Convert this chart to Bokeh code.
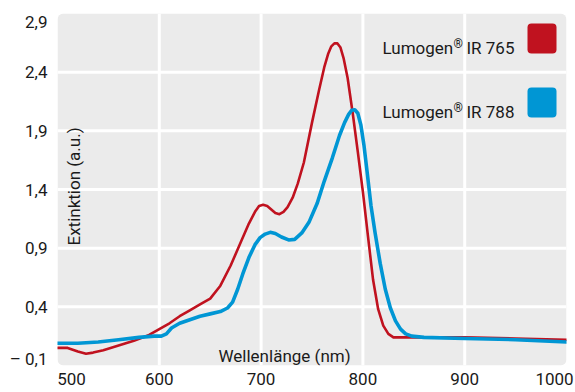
import math
from bokeh.plotting import figure
from bokeh.models import Label, BoxAnnotation, Span, FixedTicker
from bokeh.embed import file_html
from bokeh.resources import INLINE

# ---- data ----
wl_765 = [500, 510, 520, 528, 535, 545, 560, 575, 590, 600, 610, 620, 630, 640, 650,
          660, 670, 680, 688, 694, 698, 702, 706, 710, 714, 718, 722, 726, 731, 736,
          742, 750, 757, 762, 766, 769, 772, 775, 778, 781, 785, 790, 795, 800, 805,
          810, 815, 820, 825, 830, 840, 860, 900, 950, 1000]
ext_765 = [0.05, 0.05, 0.02, 0.00, 0.01, 0.03, 0.07, 0.11, 0.16, 0.21, 0.26, 0.32, 0.37, 0.42, 0.47,
           0.58, 0.75, 0.95, 1.11, 1.21, 1.26, 1.27, 1.26, 1.23, 1.20, 1.19, 1.21, 1.25, 1.33, 1.45,
           1.63, 1.97, 2.25, 2.44, 2.56, 2.62, 2.645, 2.645, 2.61, 2.52, 2.35, 2.05, 1.72, 1.38, 1.00,
           0.63, 0.38, 0.24, 0.17, 0.14, 0.14, 0.14, 0.14, 0.13, 0.12]

wl_788 = [500, 520, 540, 560, 580, 595, 602, 607, 612, 620, 630, 640, 650, 660, 667,
          672, 677, 682, 688, 694, 699, 704, 709, 714, 720, 727, 733, 740, 747, 755,
          762, 770, 777, 782, 786, 789, 792, 795, 798, 801, 804, 808, 812, 817, 822,
          827, 832, 837, 842, 848, 860, 900, 950, 1000]
ext_788 = [0.09, 0.09, 0.10, 0.12, 0.14, 0.15, 0.15, 0.17, 0.22, 0.26, 0.29, 0.32, 0.34, 0.36, 0.39,
           0.44, 0.55, 0.68, 0.82, 0.93, 0.99, 1.02, 1.035, 1.025, 0.995, 0.97, 0.975, 1.03, 1.12, 1.28,
           1.47, 1.67, 1.86, 1.97, 2.04, 2.075, 2.08, 2.05, 1.95, 1.78, 1.56, 1.26, 1.03, 0.77, 0.55,
           0.39, 0.28, 0.21, 0.17, 0.15, 0.14, 0.13, 0.12, 0.10]

x_ticks = [500, 600, 700, 800, 900, 1000]
x_tick_labels = ["500", "600", "700", "800", "900", "1000"]
y_ticks = [-0.1, 0.4, 0.9, 1.4, 1.9, 2.4, 2.9]
y_tick_labels = ["– 0,1", "0,4", "0,9", "1,4", "1,9", "2,4", "2,9"]

series_names = ["IR 765", "IR 788"]
series_colors = ["#c0121f", "#0096d4"]

x_title = "Wellenlänge (nm)"
y_title = "Extinktion (a.u.)"

# ---- layout ----
X0, X1 = 500, 1000
Y0, Y1 = -0.1, 2.9
FL, FR, FT, FB = 57, 566, 13, 365  # frame in figure pixels
W, H = 575, 392
SX = (X1 - X0) / (FR - FL)  # data per pixel
SY = (Y1 - Y0) / (FB - FT)

def dx(px):  # figure pixel -> data x
    return X0 + (px - FL) * SX

def dy(py):  # figure pixel -> data y
    return Y0 + (FB - py) * SY

FONT = "Roboto"
TXT = "#1a1a1a"

p = figure(width=W, height=H, x_range=(X0, X1), y_range=(Y0, Y1),
           output_backend="svg", toolbar_location=None,
           min_border_left=FL, min_border_right=W - FR, min_border_top=FT,
           min_border_bottom=H - FB)
p.grid.visible = False
p.outline_line_color = None
p.background_fill_color = "white"
p.border_fill_color = "white"

# tick label positions (edge labels nudged inward like the original)
x_pos = list(x_ticks)
x_pos[0] = x_ticks[0] + 14 * SX
x_pos[-1] = x_ticks[-1] - 12 * SX
y_pos = list(y_ticks)
y_pos[0] = y_ticks[0] + 7 * SY
y_pos[-1] = y_ticks[-1] - 8 * SY

for ax, pos, labs, standoff in ((p.xaxis[0], x_pos, x_tick_labels, 7),
                                (p.yaxis[0], y_pos, y_tick_labels, 10)):
    ax.ticker = FixedTicker(ticks=pos)
    ax.major_label_overrides = {v: t for v, t in zip(pos, labs)}
    ax.axis_line_color = None
    ax.major_tick_line_color = None
    ax.minor_tick_line_color = None
    ax.major_tick_in = 0
    ax.major_tick_out = 0
    ax.minor_tick_in = 0
    ax.minor_tick_out = 0
    ax.major_label_standoff = standoff
    ax.major_label_text_font = FONT
    ax.major_label_text_font_size = "17px"
    ax.major_label_text_color = TXT

bg = BoxAnnotation(fill_color="#ebebeb", fill_alpha=1.0, line_color=None,
                   border_radius=6, level="underlay")
p.add_layout(bg)

for xv in x_ticks[1:-1]:
    p.add_layout(Span(location=xv, dimension="height", line_color="white",
                      line_width=3, level="underlay"))
for yv in y_ticks[1:-1]:
    p.add_layout(Span(location=yv, dimension="width", line_color="white",
                      line_width=3, level="underlay"))

p.line(wl_765, ext_765, line_color=series_colors[0], line_width=2.6,
       line_join="round", line_cap="round")
p.line(wl_788, ext_788, line_color=series_colors[1], line_width=3.6,
       line_join="round", line_cap="round")

# axis titles (inside the plot)
p.add_layout(Label(x=dx(218), y=dy(355), text=x_title, text_align="left",
                   text_baseline="alphabetic", text_font=FONT,
                   text_font_size="17px", text_color=TXT))
p.add_layout(Label(x=dx(73), y=dy(245), text=y_title, angle=math.pi / 2,
                   text_align="left", text_baseline="alphabetic", text_font=FONT,
                   text_font_size="17px", text_color=TXT))

# legend
for k, (name, col) in enumerate(zip(series_names, series_colors)):
    top = 23 + 64 * k
    p.add_layout(BoxAnnotation(left=dx(527), right=dx(556), top=dy(top), bottom=dy(top + 30),
                               fill_color=col, fill_alpha=1.0, line_color=None,
                               border_radius=4))
    base = top + 24
    p.add_layout(Label(x=dx(382), y=dy(base), text="Lumogen", text_align="left",
                       text_baseline="alphabetic", text_font=FONT,
                       text_font_size="17px", text_color=TXT))
    p.add_layout(Label(x=dx(453), y=dy(base - 4), text="®", text_align="left",
                       text_baseline="alphabetic", text_font=FONT,
                       text_font_size="12px", text_color=TXT))
    p.add_layout(Label(x=dx(466), y=dy(base), text=name, text_align="left",
                       text_baseline="alphabetic", text_font=FONT,
                       text_font_size="17px", text_color=TXT))

open("out.html", "w").write(file_html(p, INLINE))
